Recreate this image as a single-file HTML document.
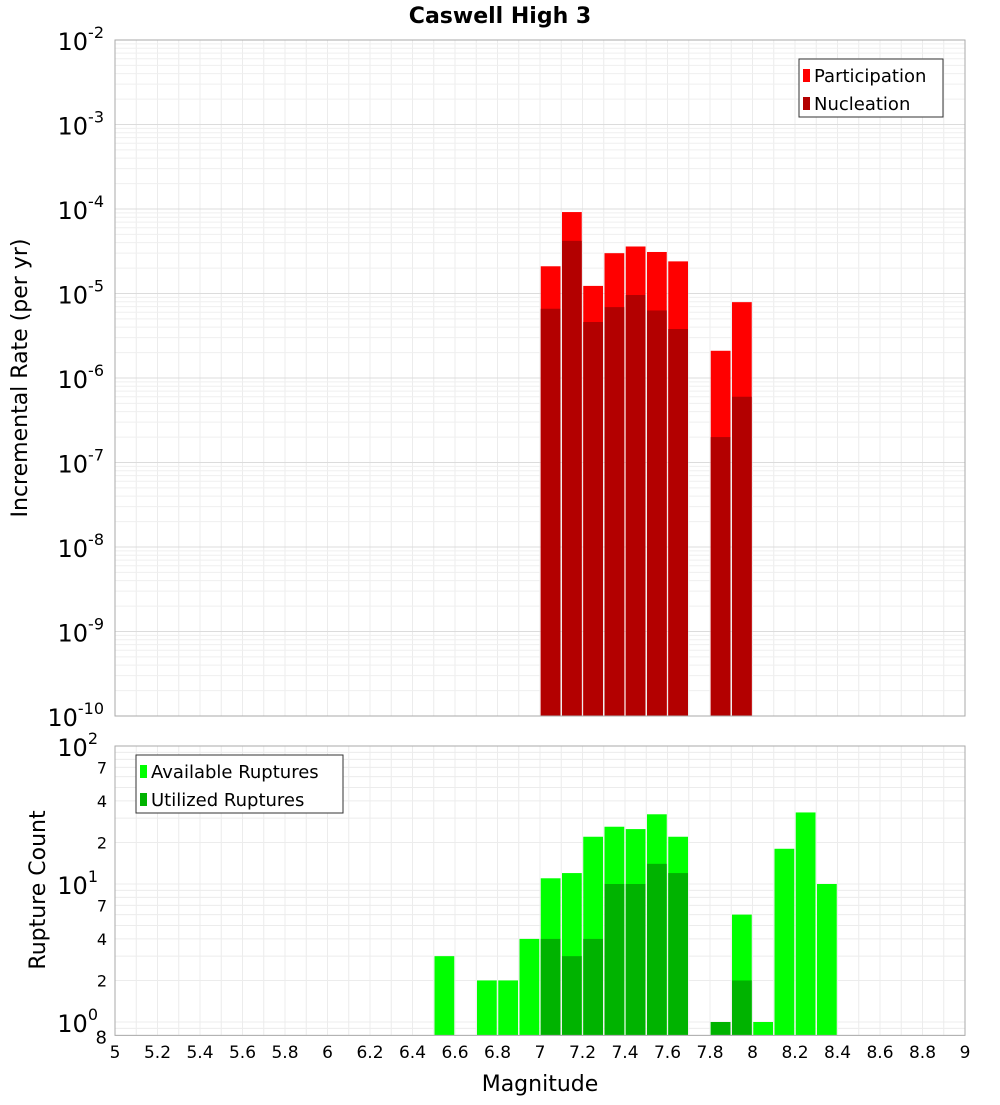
<!DOCTYPE html>
<html><head><meta charset="utf-8"><style>
body{margin:0;background:#fff;font-family:"Liberation Sans","DejaVu Sans",sans-serif}
svg text{font-family:"DejaVu Sans","Liberation Sans",sans-serif}
</style></head><body>
<svg id="c" width="1000" height="1100" xmlns="http://www.w3.org/2000/svg"></svg>
<script>
const binCenters=[7.05,7.15,7.25,7.35,7.45,7.55,7.65,7.85,7.95];
const participation=[2.1e-5,9.2e-5,1.23e-5,3.0e-5,3.6e-5,3.1e-5,2.4e-5,2.1e-6,7.9e-6];
const nucleation=[6.6e-6,4.2e-5,4.6e-6,6.9e-6,9.6e-6,6.3e-6,3.8e-6,2.0e-7,6.0e-7];
const countCenters=[6.55,6.75,6.85,6.95,7.05,7.15,7.25,7.35,7.45,7.55,7.65,7.85,7.95,8.05,8.15,8.25,8.35];
const available=[3,2,2,4,11,12,22,26,25,32,22,1,6,1,18,33,10];
const utilized=[0,0,0,0,4,3,4,10,10,14,12,1,2,0,0,0,0];
const xTicks=[5,5.2,5.4,5.6,5.8,6,6.2,6.4,6.6,6.8,7,7.2,7.4,7.6,7.8,8,8.2,8.4,8.6,8.8,9];
const topExps=[-2,-3,-4,-5,-6,-7,-8,-9,-10];
const botMinor=[7,4,2];

const NS="http://www.w3.org/2000/svg",svg=document.getElementById('c');
function el(t,a,txt,p){const e=document.createElementNS(NS,t);for(const k in a)e.setAttribute(k,a[k]);if(txt!=null)e.textContent=txt;(p||svg).appendChild(e);return e;}
const X0=115,X1=965;
const x=v=>X0+(v-5)/4*(X1-X0);
const T0=40,T1=716;
const yTop=v=>T0+(-2-Math.log10(v))*(T1-T0)/8;
const B0=746,BD=138;
const yBot=v=>B0+(2-Math.log10(v))*BD;
const B1=yBot(0.8);

const title=el('text',{x:500,y:23,'text-anchor':'middle','font-size':22,'font-weight':'bold'},'Caswell High 3');


// grids
const g=el('g',{});
for(let v=5;v<=9.001;v+=0.1){el('line',{x1:x(v),x2:x(v),y1:T0,y2:T1,stroke:'#ececec'},null,g);el('line',{x1:x(v),x2:x(v),y1:B0,y2:B1,stroke:'#ececec'},null,g);}
for(let e=-10;e<-2;e++)for(let m=1;m<10;m++){const yy=yTop(m*Math.pow(10,e));el('line',{x1:X0,x2:X1,y1:yy,y2:yy,stroke:m==1?'#dcdcdc':'#efefef'},null,g);}
for(let e=-1;e<2;e++)for(let m=1;m<10;m++){const v=m*Math.pow(10,e);if(v<0.8)continue;const yy=yBot(v);el('line',{x1:X0,x2:X1,y1:yy,y2:yy,stroke:'#ececec'},null,g);}

const bw=(X1-X0)/40-1.5;
binCenters.forEach((c,i)=>{
 const r=el('rect',{x:x(c)-bw/2,y:yTop(participation[i]),width:bw,height:T1-yTop(participation[i]),fill:'#ff0000'});
 
 const n=el('rect',{x:x(c)-bw/2,y:yTop(nucleation[i]),width:bw,height:T1-yTop(nucleation[i]),fill:'#b30000'});
 
});
countCenters.forEach((c,i)=>{
 const r=el('rect',{x:x(c)-bw/2,y:yBot(available[i]),width:bw,height:B1-yBot(available[i]),fill:'#00ff00'});
 
 if(utilized[i]>0){const n=el('rect',{x:x(c)-bw/2,y:yBot(utilized[i]),width:bw,height:B1-yBot(utilized[i]),fill:'#00b300'});
 }
});
el('rect',{x:X0,y:T0,width:X1-X0,height:T1-T0,fill:'none',stroke:'#aaa'});
el('rect',{x:X0,y:B0,width:X1-X0,height:B1-B0,fill:'none',stroke:'#aaa'});

topExps.forEach(e=>{const yy=yTop(Math.pow(10,e));
 const t=el('text',{x:104,y:yy+10,'text-anchor':'end','font-size':24});
 
 el('tspan',{},'10',t);el('tspan',{dy:-12,'font-size':16},String(e),t);});
[[2,'10','2'],[1,'10','1'],[0,'10','0']].forEach(([e,b,s])=>{const yy=yBot(Math.pow(10,e));
 const t=el('text',{x:98,y:yy+10,'text-anchor':'end','font-size':24});
 
 el('tspan',{},b,t);el('tspan',{dy:-12,'font-size':16},s,t);});
[1,10].forEach(d=>botMinor.forEach(m=>{const t=el('text',{x:107,y:yBot(m*d)+6,'text-anchor':'end','font-size':16},String(m));}));
const t8=el('text',{x:107,y:B1+8,'text-anchor':'end','font-size':18},'8');

xTicks.forEach(v=>{const t=el('text',{x:x(v),y:1058,'text-anchor':'middle','font-size':17},String(+v.toFixed(1)));});
const xt=el('text',{x:540,y:1091,'text-anchor':'middle','font-size':22},'Magnitude');
const yt=el('text',{x:0,y:0,transform:'translate(27,378) rotate(-90)','text-anchor':'middle','font-size':22},'Incremental Rate (per yr)');
const yt2=el('text',{x:0,y:0,transform:'translate(45,890) rotate(-90)','text-anchor':'middle','font-size':22},'Rupture Count');

function legend(x0,y0,w,items,name){const lg=el('g',{});
 el('rect',{x:x0,y:y0,width:w,height:58,fill:'#fff',stroke:'#333'},null,lg);
 items.forEach(([c,l],i)=>{el('rect',{x:x0+4,y:y0+10+i*28,width:7,height:13,fill:c},null,lg);
 const t=el('text',{x:x0+15,y:y0+23+i*28,'font-size':18},l,lg);});}
legend(799,59,144,[['#ff0000','Participation'],['#b30000','Nucleation']],'legend-top');
legend(136,755,207,[['#00ff00','Available Ruptures'],['#00b300','Utilized Ruptures']],'legend-bottom');
</script>
</body></html>
